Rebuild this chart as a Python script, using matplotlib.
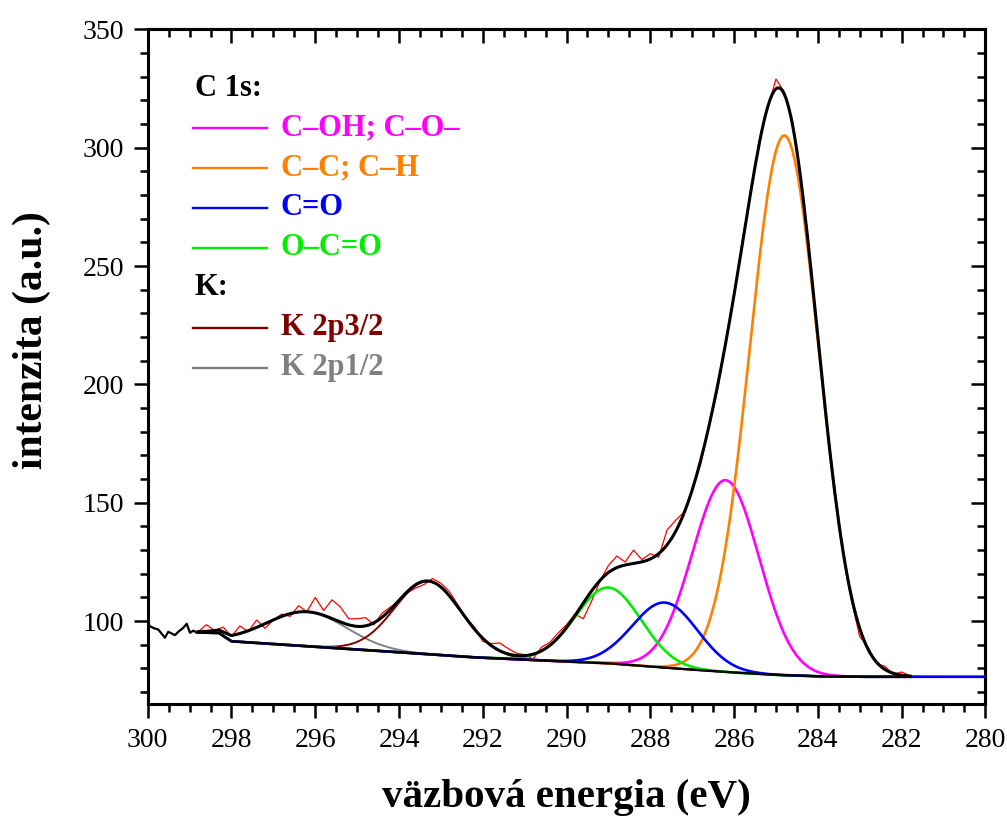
import numpy as np
import matplotlib
matplotlib.use('Agg')
import matplotlib.pyplot as plt
from matplotlib.ticker import MultipleLocator

plt.rcParams['font.family'] = ['Liberation Serif', 'DejaVu Serif']

# measured spectrum left of the fit window (black)
edge_energy = [299.95, 299.85, 299.75, 299.68, 299.59, 299.51, 299.43, 299.35,
               299.27, 299.15, 299.07, 298.99, 298.91, 298.83]
edge_counts = [97.9, 97.0, 96.5, 95.0, 93.0, 95.5, 94.8, 94.1,
               95.5, 97.2, 98.9, 95.1, 96.0, 95.1]

# measured spectrum inside the fit window (red), 0.2 eV step
fit_energy = np.linspace(298.8, 281.8, 86)
fit_counts = [95.5, 98.5, 96.0, 97.5, 93.5, 98.0, 95.5, 100.5, 97.0, 100.5,
              103.0, 102.0, 106.5, 104.0, 110.0, 104.5, 109.0, 106.0, 101.0, 101.0,
              101.5, 98.5, 103.5, 106.0, 108.5, 112.0, 114.0, 115.5, 118.0, 116.0,
              112.5, 107.0, 101.5, 97.5, 91.5, 90.5, 90.8, 88.5, 86.5, 85.8,
              84.0, 89.0, 91.0, 95.0, 98.5, 103.0, 101.0, 108.5, 117.0, 123.5,
              127.5, 125.0, 130.0, 126.0, 128.5, 127.0, 138.5, 142.5, 146.0, 155.5,
              166.0, 182.5, 197.0, 218.5, 238.0, 261.0, 280.5, 303.0, 316.5, 329.0,
              323.5, 311.0, 287.0, 253.0, 221.5, 186.0, 156.5, 128.5, 109.0, 93.5,
              89.0, 82.0, 81.0, 77.5, 78.5, 77.0]

# background nodes
bg_energy = [298.8, 298.3, 298.0, 296.0, 294.6, 292.3, 290.0, 289.0,
             288.0, 287.0, 286.0, 285.0, 284.0, 283.0, 281.8]
bg_counts = [95.2, 95.0, 91.5, 89.2, 87.6, 84.8, 82.9, 82.2,
             80.8, 79.5, 78.3, 77.3, 76.7, 76.5, 76.5]

# fitted components
peak_labels = ['C–OH; C–O–', 'C–C; C–H', 'C=O', 'O–C=O', 'K 2p3/2', 'K 2p1/2']
peak_colors = ['#ff00ff', '#ff7f00', '#0000ff', '#00ee00', '#800000', '#808080']
peak_centers = [286.2, 284.8, 287.65, 289.0, 293.3, 296.2]
peak_heights = [81.0, 228.0, 27.5, 32.0, 30.8, 14.5]
peak_fwhm = [1.88, 1.93, 1.84, 1.84, 1.88, 2.24]


def gauss(x, c, h, w):
    s = w / 2.3548
    return h * np.exp(-(x - c) ** 2 / (2 * s * s))


grid = np.linspace(298.8, 280.0, 377)
bg = np.interp(grid, bg_energy[::-1], bg_counts[::-1])
comps = [gauss(grid, c, h, w) for c, h, w in zip(peak_centers, peak_heights, peak_fwhm)]
inside = grid >= 281.8
envelope = bg + np.sum(comps, axis=0)

fig = plt.figure(figsize=(10.07, 8.17), dpi=100)
ax = fig.add_axes([0.1467, 0.1383, 0.8318, 0.8258])

ax.plot(edge_energy, edge_counts, color='black', lw=1.6, zorder=3)
ax.plot(fit_energy, fit_counts, color='#ff0000', lw=0.9, zorder=2)

# components sit on top of the background; C=O and C-C run out to 280 eV
draw_order = [5, 4, 0, 1, 3, 2]
for i in draw_order:
    lw = 1.4 if i >= 4 else 1.9
    sel = np.ones_like(grid, dtype=bool) if i in (1, 2) else inside
    ax.plot(grid[sel], bg[sel] + comps[i][sel], color=peak_colors[i], lw=lw, zorder=4)

ax.plot(grid[inside], bg[inside], color='black', lw=1.7, zorder=5)
ax.plot(grid[inside], envelope[inside], color='black', lw=2.2, zorder=6)

ax.set_xlim(300, 280)
ax.set_ylim(65, 350)
ax.xaxis.set_major_locator(MultipleLocator(2))
ax.xaxis.set_minor_locator(MultipleLocator(0.5))
ax.yaxis.set_major_locator(MultipleLocator(50))
ax.yaxis.set_minor_locator(MultipleLocator(10))
ax.tick_params(which='both', direction='out', width=1.8, top=False, right=False,
               labelsize=20, pad=7)
ax.tick_params(which='major', length=10)
ax.tick_params(which='minor', length=6)
for sp in ax.spines.values():
    sp.set_linewidth(2.2)

# inward ticks on the top and right frame
secx = ax.secondary_xaxis('top')
secx.xaxis.set_major_locator(MultipleLocator(2))
secx.xaxis.set_minor_locator(MultipleLocator(0.5))
secx.tick_params(which='both', direction='in', width=1.8, labeltop=False)
secx.tick_params(which='major', length=10)
secx.tick_params(which='minor', length=6)
secx.spines['top'].set_linewidth(2.2)
secy = ax.secondary_yaxis('right')
secy.yaxis.set_major_locator(MultipleLocator(50))
secy.yaxis.set_minor_locator(MultipleLocator(10))
secy.tick_params(which='both', direction='in', width=1.8, labelright=False)
secy.tick_params(which='major', length=10)
secy.tick_params(which='minor', length=6)
secy.spines['right'].set_linewidth(2.2)

ax.set_xlabel('väzbová energia (eV)', fontsize=29.5, fontweight='bold', va='center')
ax.set_ylabel('intenzita (a.u.)', fontsize=30, fontweight='bold', va='center')
ax.xaxis.set_label_coords(0.5, -0.139)
ax.yaxis.set_label_coords(-0.138, 0.5395)

# legend with group headers
rows = [('C 1s:', 'black', False)]
rows += [(peak_labels[i], peak_colors[i], True) for i in range(4)]
rows += [('K:', 'black', False)]
rows += [(peak_labels[i], peak_colors[i], True) for i in range(4, 6)]
for k, (txt, col, line) in enumerate(rows):
    y = 0.913 - k * 0.0592
    if line:
        ax.plot([0.054, 0.142], [y, y], color=col, lw=1.7, transform=ax.transAxes)
        ax.text(0.159, y, txt, color=col, fontsize=22, fontweight='bold',
                va='center', ha='left', transform=ax.transAxes)
    else:
        ax.text(0.056, y, txt, color=col, fontsize=22, fontweight='bold',
                va='center', ha='left', transform=ax.transAxes)

fig.savefig('out.png', dpi=100)
